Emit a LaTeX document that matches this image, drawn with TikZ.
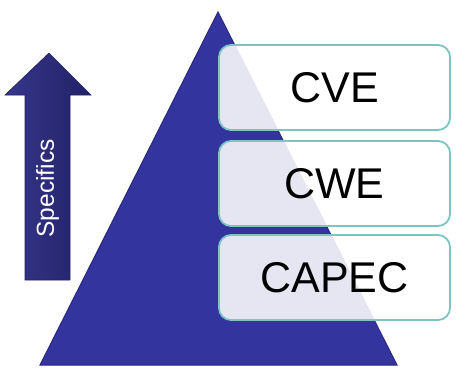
\documentclass[tikz,border=0pt]{standalone}
\usepackage{fontspec}
\setmainfont{Liberation Sans}
\definecolor{pyramidblue}{RGB}{52,52,158}
\definecolor{pyramidedge}{RGB}{40,40,130}
\definecolor{arrowlight}{RGB}{54,54,140}
\definecolor{arrowdark}{RGB}{34,34,102}
\definecolor{boxedge}{RGB}{126,196,196}
\tikzset{
  levelbox/.style={draw=boxedge, line width=1.8pt, fill=white, fill opacity=0.88,
    text opacity=1, rounded corners=12pt, minimum width=231pt, minimum height=85pt,
    inner sep=0pt, font=\fontsize{43}{43}\selectfont},
  arrowlabel/.style={text=white, rotate=90, font=\fontsize{24.5}{24.5}\selectfont},
}
\begin{document}
\begin{tikzpicture}[x=1pt,y=-1pt]
\useasboundingbox (0,0) rectangle (456,370);
% pyramid
\fill[pyramidblue, draw=pyramidedge, line width=1pt] (218,12) -- (397,365) -- (40,365) -- cycle;
% upward arrow
\shade[left color=arrowlight, right color=arrowdark, draw=arrowdark, line width=0.6pt]
  (49,53) -- (91,95) -- (70,95) -- (70,280) -- (25,280) -- (25,95) -- (5,95) -- cycle;
\node[arrowlabel] (specifics) at (47.5,188.5) {Specifics};
% levels
\node[levelbox] (cve) at (334.5,87.5) {CVE};
\node[levelbox] (cwe) at (334.5,183.5) {CWE};
\node[levelbox] (capec) at (334.5,277.5) {CAPEC};
\end{tikzpicture}
\end{document}
